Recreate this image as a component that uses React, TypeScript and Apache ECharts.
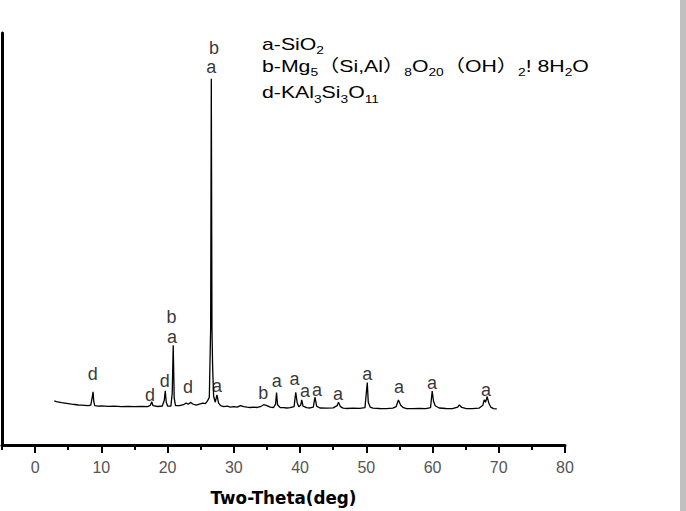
import React, { useEffect, useRef } from "react";
import * as echarts from "echarts";

// XRD pattern: 2-theta (deg) and intensity (a.u.)
const THETA = [
  2.9, 3.2, 3.6, 4.0, 4.5, 5.0, 5.5, 6.0, 6.5, 7.0, 7.5, 8.0, 8.4, 8.6, 8.75, 8.85, 9.0, 9.5,
  10, 11, 12, 13, 14, 15, 16, 17, 17.4, 17.6, 17.8, 18.5, 19.2, 19.5, 19.65, 19.8, 20.0, 20.5,
  20.7, 20.85, 21.0, 21.2, 21.8, 22.4, 22.8, 23.1, 23.5, 23.8, 24.3, 24.8, 25.3, 25.7, 26.0,
  26.3, 26.5, 26.6, 26.7, 26.8, 26.95, 27.2, 27.45, 27.7, 28.0, 28.5, 29, 29.5, 30, 30.5, 31.0,
  31.5, 32, 32.5, 33, 33.5, 34.0, 34.5, 35.0, 35.5, 36.0, 36.3, 36.45, 36.6, 37, 37.5, 38, 38.5,
  39.1, 39.35, 39.55, 39.8, 40.1, 40.25, 40.45, 41, 41.5, 42.0, 42.25, 42.5, 43, 44, 45, 45.6,
  45.8, 46.1, 46.5, 47, 48, 49, 49.8, 50.0, 50.15, 50.3, 50.6, 51, 52, 53, 54, 54.5, 54.85,
  55.2, 55.6, 56, 57, 58, 59, 59.7, 59.95, 60.15, 60.4, 61, 62, 63, 63.8, 64.05, 64.4, 65, 66,
  67, 67.6, 67.8, 68.0, 68.25, 68.5, 68.8, 69.2, 69.7,
];
const INTENSITY = [
  443, 435, 430, 425, 420, 415, 410, 407, 402, 400, 398, 395, 400, 470, 535, 440, 395, 390,
  394, 388, 390, 385, 388, 385, 387, 385, 400, 435, 395, 387, 392, 450, 545, 430, 392, 390,
  520, 1003, 470, 395, 395, 405, 422, 410, 428, 412, 400, 410, 420, 415, 440,
  480, 1170, 3680, 1170, 787, 490, 430, 503, 420, 395, 385, 390, 380, 385, 380, 395,
  385, 380, 377, 380, 377, 385, 405, 395, 380, 377, 410, 527, 405, 375, 375, 372, 375,
  385, 530, 430, 385, 400, 453, 390, 375, 372, 380, 480, 390, 372, 370, 373, 395,
  430, 385, 370, 367, 370, 368, 375, 520, 627, 430, 380, 370, 367, 365, 370, 385, 453,
  400, 375, 367, 365, 367, 365, 375, 543, 440, 395, 372, 367, 365, 380, 403, 377, 367, 365,
  370, 400, 453, 430, 487, 420, 380, 365, 363,
];

// phase marks above the peaks
const PEAK_THETA = [8.71, 17.36, 19.58, 20.68, 20.58, 23.09, 27.47, 34.46, 36.48, 39.15, 40.75, 42.57, 45.74, 50.16, 54.94, 59.92, 68.08, 26.6, 27.0];
const PEAK_HEIGHT = [710, 500, 640, 1085, 1287, 580, 595, 520, 645, 665, 545, 555, 515, 715, 585, 625, 555, 3795, 3990];
const PEAK_PHASE = ["d", "d", "d", "a", "b", "d", "a", "b", "a", "a", "a", "a", "a", "a", "a", "a", "a", "a", "b"];

const MAJOR_TICKS = [0, 10, 20, 30, 40, 50, 60, 70, 80];
const MINOR_TICKS = [-5, 5, 15, 25, 35, 45, 55, 65, 75];

const FONT = "'Liberation Sans', Arial, 'Noto Sans CJK SC', sans-serif";

export default function App() {
  const ref = useRef<HTMLDivElement>(null);
  useEffect(() => {
    if (!ref.current) return;
    const chart = echarts.init(ref.current, null, { renderer: "svg" });
    const lineData = THETA.map((t, i) => [t, INTENSITY[i]]);
    const peakData = PEAK_THETA.map((t, i) => [t, PEAK_HEIGHT[i], PEAK_PHASE[i]]);
    const richBase = {
      m: { fontSize: 17, fontFamily: FONT, color: "#000", lineHeight: 24, verticalAlign: "middle" },
      s: { fontSize: 11, fontFamily: FONT, color: "#000", lineHeight: 14, verticalAlign: "bottom" },
    };
    const legendLine = (text: string, y: number) => ({
      type: "text",
      x: 262,
      y,
      scaleX: 1.25,
      style: { text, rich: richBase, textVerticalAlign: "top", textAlign: "left" },
      silent: true,
    });
    chart.setOption({
      animation: false,
      backgroundColor: "#fff",
      grid: { left: 2, right: 121, top: 33, bottom: 63.5, containLabel: false },
      xAxis: [
        {
          type: "value",
          min: -5,
          max: 80,
          axisLine: { show: true, onZero: false, lineStyle: { color: "#000", width: 3 } },
          axisTick: { show: true, customValues: MAJOR_TICKS, length: 8, lineStyle: { color: "#000", width: 2 } },
          axisLabel: { show: true, customValues: MAJOR_TICKS, margin: 14, fontSize: 16, color: "#555", fontFamily: FONT },
          splitLine: { show: false },
          name: "Two-Theta(deg)",
          nameLocation: "middle",
          nameGap: 44,
          nameTextStyle: { fontSize: 16.8, fontWeight: "bold", fontFamily: "'DejaVu Sans', sans-serif", color: "#000" },
        },
        {
          type: "value",
          min: -5,
          max: 80,
          position: "bottom",
          axisLine: { show: false, onZero: false },
          axisTick: { show: true, customValues: MINOR_TICKS, length: 5, lineStyle: { color: "#000", width: 2 } },
          axisLabel: { show: false },
          splitLine: { show: false },
        },
      ],
      yAxis: {
        type: "value",
        min: 0,
        max: 4140,
        axisLine: { show: true, onZero: false, lineStyle: { color: "#000", width: 3 } },
        axisTick: { show: false },
        axisLabel: { show: false },
        splitLine: { show: false },
      },
      series: [
        {
          type: "line",
          xAxisIndex: 0,
          data: lineData,
          showSymbol: false,
          symbol: "none",
          lineStyle: { color: "#000", width: 1.3 },
          silent: true,
        },
        {
          type: "scatter",
          xAxisIndex: 0,
          data: peakData,
          symbolSize: 1,
          itemStyle: { color: "transparent" },
          label: {
            show: true,
            position: "inside",
            formatter: (p: any) => p.data[2],
            fontSize: 18,
            fontFamily: FONT,
            color: "#000",
          },
          silent: true,
        },
      ],
      graphic: [
        { type: "rect", shape: { x: 680, y: 0, width: 6, height: 511 }, style: { fill: "#c0c0c0" }, silent: true },
        legendLine("{m|a-SiO}{s|2}", 32.3),
        legendLine("{m|b-Mg}{s|5}{m|（Si,Al）}{s|8}{m|O}{s|20}{m|（OH）}{s|2}{m|! 8H}{s|2}{m|O}", 53.9),
        legendLine("{m|d-KAl}{s|3}{m|Si}{s|3}{m|O}{s|11}", 80.5),
      ],
    });
    return () => chart.dispose();
  }, []);
  return <div ref={ref} style={{ position: "fixed", left: 0, top: 0, width: 686, height: 511 }} />;
}
